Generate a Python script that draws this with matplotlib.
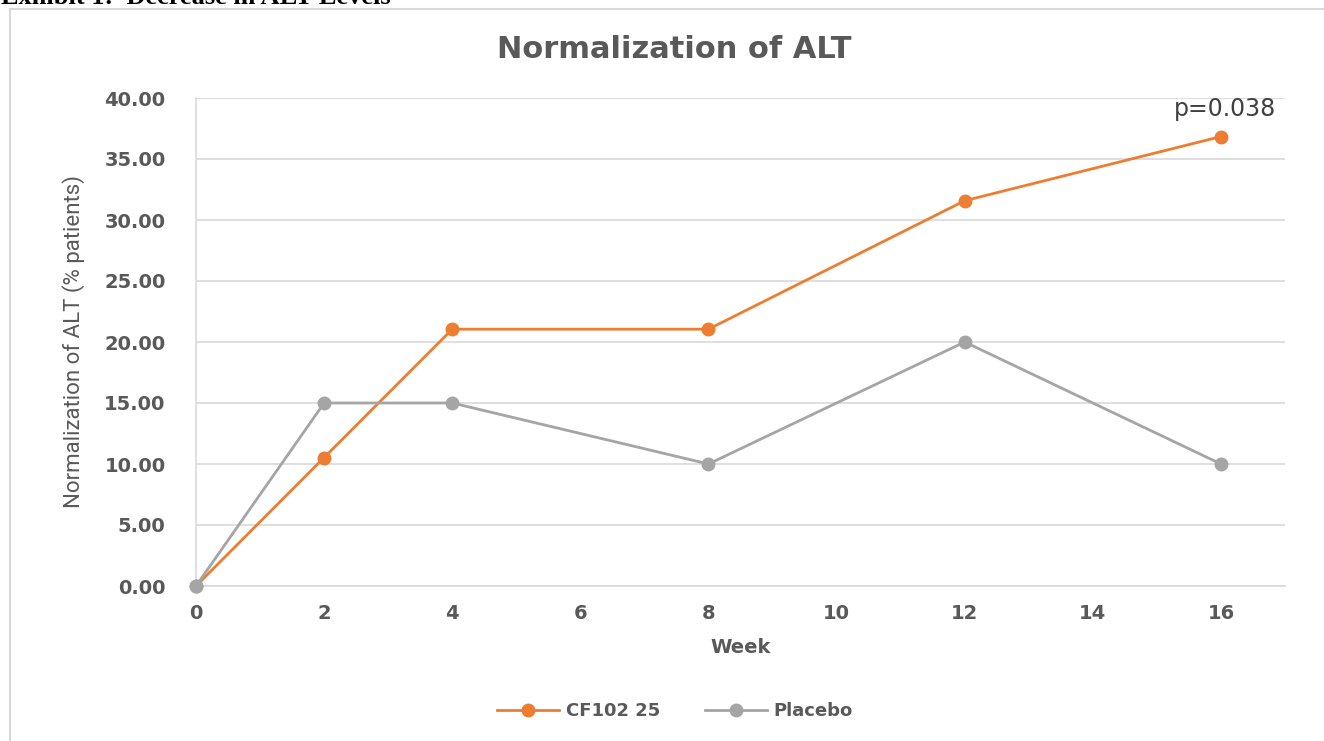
import matplotlib.pyplot as plt
import matplotlib.patches as patches

weeks = [0, 2, 4, 8, 12, 16]
cf102 = [0.0, 10.53, 21.05, 21.05, 31.58, 36.84]
placebo = [0.0, 15.0, 15.0, 10.0, 20.0, 10.0]
x_ticks = [0, 2, 4, 6, 8, 10, 12, 14, 16]
y_ticks = [0, 5, 10, 15, 20, 25, 30, 35, 40]

orange = '#ED7D31'
grey = '#A5A5A5'
text_grey = '#595959'
grid_grey = '#D9D9D9'

fig = plt.figure(figsize=(13.24, 7.41), dpi=100)
fig.patch.set_facecolor('white')

# chart area frame (runs off the right and bottom edges)
fig.patches.append(patches.Rectangle((10 / 1324, -0.05), 1.1, 1 - 9 / 741 + 0.05,
                                     transform=fig.transFigure, fill=False,
                                     edgecolor=grid_grey, linewidth=1.5))

# caption above the chart, mostly clipped by the top edge
fig.text(1 / 1324, 1 - 4 / 741, 'Exhibit 1:  Decrease in ALT Levels',
         family='Liberation Serif', weight='bold', fontsize=19,
         va='baseline', ha='left', color='black')

ax = fig.add_axes([196 / 1324, 1 - 586 / 741, (1285 - 196) / 1324, (586 - 98) / 741])
ax.set_xlim(0, 17)
ax.set_ylim(0, 40)

ax.plot(weeks, cf102, color=orange, lw=2.0, marker='o', ms=9, label='CF102 25', zorder=3,
        clip_on=False)
ax.plot(weeks, placebo, color=grey, lw=2.0, marker='o', ms=9, label='Placebo', zorder=3,
        clip_on=False)

ax.set_xticks(x_ticks)
ax.set_yticks(y_ticks)
ax.set_yticklabels(['%.2f' % v for v in y_ticks])
ax.tick_params(length=0, labelsize=14, labelcolor=text_grey)
for lab in ax.get_xticklabels() + ax.get_yticklabels():
    lab.set_fontweight('bold')
ax.tick_params(axis='y', pad=22)
ax.tick_params(axis='x', pad=13)

ax.grid(axis='y', color=grid_grey, lw=1.2)
ax.set_axisbelow(True)
for side in ['top', 'right']:
    ax.spines[side].set_visible(False)
ax.spines['left'].set_color(grid_grey)
ax.spines['bottom'].set_color(grid_grey)
ax.spines['left'].set_linewidth(1.2)
ax.spines['bottom'].set_linewidth(1.2)

fig.text(674 / 1324, 1 - 49 / 741, 'Normalization of ALT', fontsize=22, weight='bold',
         color=text_grey, ha='center', va='center')
ax.set_xlabel('Week', fontsize=14, color=text_grey, weight='bold', labelpad=11)
ax.set_ylabel('Normalization of ALT (% patients)', family='Roboto', fontsize=16,
              color=text_grey, labelpad=14)

ax.annotate('p=0.038', xy=(weeks[-1], cf102[-1]), xytext=(3, 11),
            textcoords='offset points', ha='center', va='bottom',
            fontsize=17, color='#404040')

leg = ax.legend(loc='upper center', bbox_to_anchor=(0.44, -0.205), ncol=2, frameon=False,
                fontsize=13, handlelength=3.4, columnspacing=2.5, handletextpad=0.4)
for t in leg.get_texts():
    t.set_color(text_grey)
    t.set_fontweight('bold')

fig.savefig('out.png', dpi=100)
